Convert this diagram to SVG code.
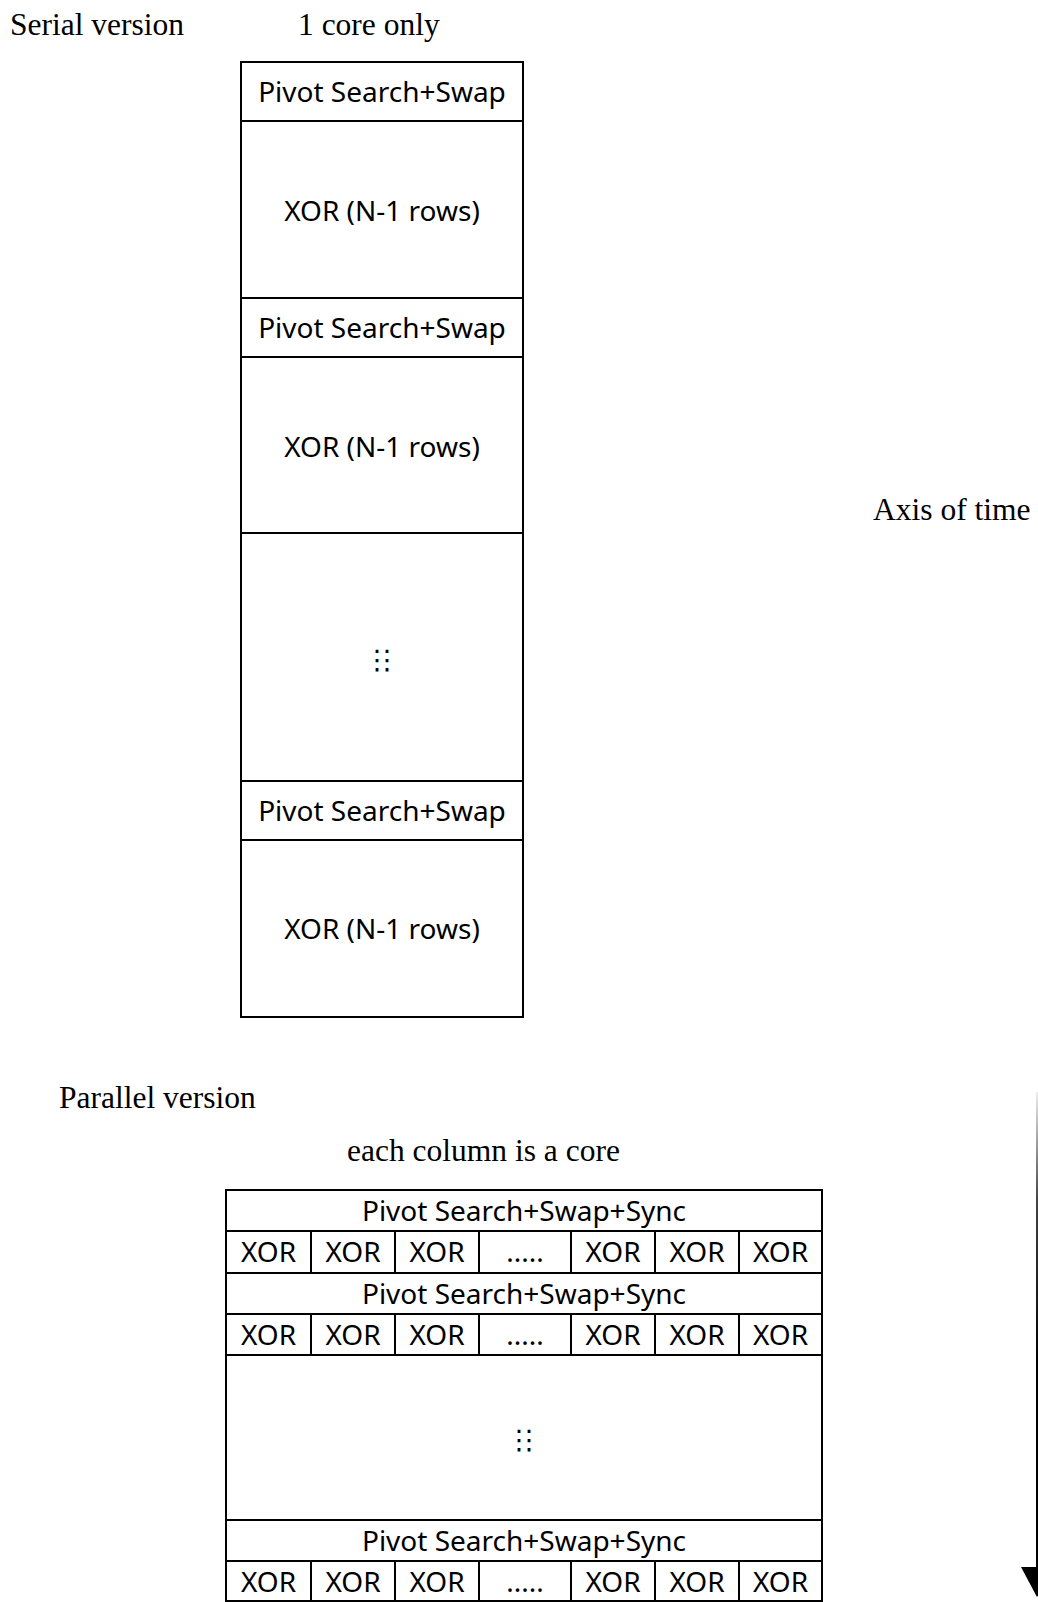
<svg xmlns="http://www.w3.org/2000/svg" width="1038" height="1602" viewBox="0 0 1038 1602">
  <style>
    .serif { font-family: "Liberation Serif", "Times New Roman", serif; font-size: 31.5px; fill: #000; }
    .lbl { font-family: "Noto Sans", "Open Sans", sans-serif; font-size: 28px; fill: #000; text-anchor: middle; }
    .dots { font-family: "DejaVu Sans", sans-serif; font-size: 27px; fill: #000; letter-spacing: -17px; }
    .box { fill: #fff; stroke: #000; stroke-width: 2; }
    .cell { fill: none; stroke: #000; stroke-width: 2; }
  </style>
  <defs>
    <linearGradient id="axisGrad" gradientUnits="userSpaceOnUse" x1="0" y1="1092" x2="0" y2="1360">
      <stop offset="0" stop-color="#eeeeee"/>
      <stop offset="0.4" stop-color="#444444"/>
      <stop offset="1" stop-color="#000000"/>
    </linearGradient>
    <marker id="arrowHead" markerUnits="userSpaceOnUse" markerWidth="32" markerHeight="34" refX="18" refY="0" viewBox="0 -17 32 34" orient="auto" overflow="visible">
      <path d="M0,-16 L30,0 L0,16 z" fill="#000"/>
    </marker>
  </defs>

  <rect width="1038" height="1602" fill="#fff"/>

  <!-- Titles -->
  <g id="titles">
    <text class="serif" x="10" y="35">Serial version</text>
    <text class="serif" x="298" y="35">1 core only</text>
    <text class="serif" x="873" y="520">Axis of time</text>
    <text class="serif" x="59" y="1108">Parallel version</text>
    <text class="serif" x="347" y="1161">each column is a core</text>
  </g>

  <!-- Serial version column -->
  <g id="serial-pivot-1">
    <rect class="box" x="241" y="62" width="282" height="59"/>
    <text class="lbl" x="382" y="101.5">Pivot Search+Swap</text>
  </g>
  <g id="serial-xor-1">
    <rect class="box" x="241" y="121" width="282" height="177"/>
    <text class="lbl" x="382" y="221">XOR (N-1 rows)</text>
  </g>
  <g id="serial-pivot-2">
    <rect class="box" x="241" y="298" width="282" height="59"/>
    <text class="lbl" x="382" y="337.5">Pivot Search+Swap</text>
  </g>
  <g id="serial-xor-2">
    <rect class="box" x="241" y="357" width="282" height="176"/>
    <text class="lbl" x="382" y="457">XOR (N-1 rows)</text>
  </g>
  <g id="serial-ellipsis">
    <rect class="box" x="241" y="533" width="282" height="248"/>
    <text class="dots" x="363.5" y="669">⋮⋮</text>
  </g>
  <g id="serial-pivot-n">
    <rect class="box" x="241" y="781" width="282" height="59"/>
    <text class="lbl" x="382" y="820.5">Pivot Search+Swap</text>
  </g>
  <g id="serial-xor-n">
    <rect class="box" x="241" y="840" width="282" height="177"/>
    <text class="lbl" x="382" y="939">XOR (N-1 rows)</text>
  </g>

  <!-- Parallel version table -->
  <g id="par-pivot-1">
    <rect class="box" x="226" y="1190" width="596" height="41"/>
    <text class="lbl" x="524" y="1220.5">Pivot Search+Swap+Sync</text>
  </g>
  <g id="par-xor-1">
    <rect class="box" x="226" y="1231" width="596" height="42"/>
    <path class="cell" d="M311,1231V1273 M395,1231V1273 M479,1231V1273 M571,1231V1273 M655,1231V1273 M739,1231V1273"/>
    <text class="lbl" x="268.5" y="1262">XOR</text>
    <text class="lbl" x="353" y="1262">XOR</text>
    <text class="lbl" x="437" y="1262">XOR</text>
    <text class="lbl" x="525" y="1262">.....</text>
    <text class="lbl" x="613" y="1262">XOR</text>
    <text class="lbl" x="697" y="1262">XOR</text>
    <text class="lbl" x="780.5" y="1262">XOR</text>
  </g>
  <g id="par-pivot-2">
    <rect class="box" x="226" y="1273" width="596" height="41"/>
    <text class="lbl" x="524" y="1303.5">Pivot Search+Swap+Sync</text>
  </g>
  <g id="par-xor-2">
    <rect class="box" x="226" y="1314" width="596" height="41"/>
    <path class="cell" d="M311,1314V1355 M395,1314V1355 M479,1314V1355 M571,1314V1355 M655,1314V1355 M739,1314V1355"/>
    <text class="lbl" x="268.5" y="1344.5">XOR</text>
    <text class="lbl" x="353" y="1344.5">XOR</text>
    <text class="lbl" x="437" y="1344.5">XOR</text>
    <text class="lbl" x="525" y="1344.5">.....</text>
    <text class="lbl" x="613" y="1344.5">XOR</text>
    <text class="lbl" x="697" y="1344.5">XOR</text>
    <text class="lbl" x="780.5" y="1344.5">XOR</text>
  </g>
  <g id="par-ellipsis">
    <rect class="box" x="226" y="1355" width="596" height="165"/>
    <text class="dots" x="505.5" y="1449">⋮⋮</text>
  </g>
  <g id="par-pivot-n">
    <rect class="box" x="226" y="1520" width="596" height="41"/>
    <text class="lbl" x="524" y="1551">Pivot Search+Swap+Sync</text>
  </g>
  <g id="par-xor-n">
    <rect class="box" x="226" y="1561" width="596" height="40"/>
    <path class="cell" d="M311,1561V1601 M395,1561V1601 M479,1561V1601 M571,1561V1601 M655,1561V1601 M739,1561V1601"/>
    <text class="lbl" x="268.5" y="1591.5">XOR</text>
    <text class="lbl" x="353" y="1591.5">XOR</text>
    <text class="lbl" x="437" y="1591.5">XOR</text>
    <text class="lbl" x="525" y="1591.5">.....</text>
    <text class="lbl" x="613" y="1591.5">XOR</text>
    <text class="lbl" x="697" y="1591.5">XOR</text>
    <text class="lbl" x="780.5" y="1591.5">XOR</text>
  </g>

  <!-- Connectors -->
  <g id="connectors">
    <line id="time-axis" x1="1037" y1="1092" x2="1037" y2="1585" stroke="url(#axisGrad)" stroke-width="2" marker-end="url(#arrowHead)"/>
  </g>
</svg>
